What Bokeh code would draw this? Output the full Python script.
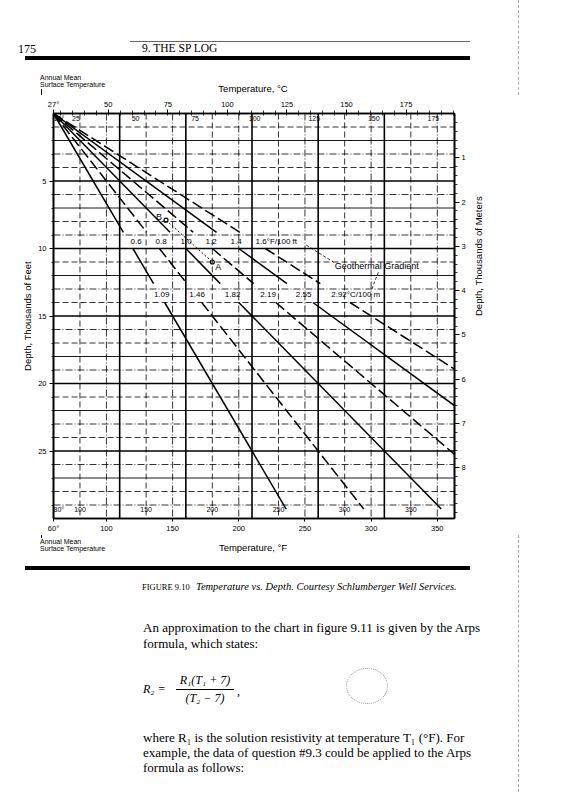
import math
from bokeh.plotting import figure
from bokeh.models import Range1d, LinearAxis, FixedTicker, Span, Div
from bokeh.layouts import column
from bokeh.embed import file_html
from bokeh.resources import INLINE
from bokeh.core.properties import value

# ---------------- data ----------------
surface_f = 60                      # annual mean surface temperature, degF
f_ticks = [60, 100, 150, 200, 250, 300, 350]
f_tick_labels = ["60°", "100", "150", "200", "250", "300", "350"]
f_inner_ticks = [80, 100, 150, 200, 250, 300, 350]
f_inner_labels = ["80°", "100", "150", "200", "250", "300", "350"]
c_outer_ticks = [27, 50, 75, 100, 125, 150, 175]
c_outer_labels = ["27°", "50", "75", "100", "125", "150", "175"]
c_inner_ticks = [15.6, 25, 50, 75, 100, 125, 150, 175]
c_inner_labels = ["15°", "25", "50", "75", "100", "125", "150", "175"]
depth_ft_ticks = [5, 10, 15, 20, 25]
depth_m_ticks = [1, 2, 3, 4, 5, 6, 7, 8]

gradients_f = [0.6, 0.8, 1.0, 1.2, 1.4, 1.6]            # degF / 100 ft
grad_f_labels = ["0.6", "0.8", "1.0", "1.2", "1.4", "1.6°F/100 ft"]
grad_c_labels = ["1.09", "1.46", "1.82", "2.19", "2.55", "2.92°C/100 m"]
grad_dash = ["solid", "11 4", "solid", "11 4", "solid", "11 4"]

heavy_f = [110, 160, 210, 260, 310]
light_f_a = [80, 130, 180, 230, 280, 330]
light_f_b = [100, 150, 200, 250, 300, 350]
heavy_d = [5, 10, 15, 20, 25]
solid_d = [2, 7, 12, 18, 22, 27]
light_d = [1, 3, 4, 6, 8, 9, 11, 13, 14, 16, 17, 19, 21, 23, 24, 26, 28, 29]

pt_names = ["B", "A"]
pt_temp_f = [145, 180]
pt_depth = [7.9, 11.0]

pieces = [(0.0, 8.8), (10.0, 12.6), (14.0, 29.3)]   # kft, gaps for label rows
row_f_depth = 9.45
row_c_depth = 13.4

FT_PER_M = 3.2808
X0, X1 = 60, 363
D0, D1 = 0, 30

SANS = "Liberation Sans"
SERIF = "Liberation Serif"
W = 558
HEAD_H = 95
FOOT_TOP = 535
FOOT_BOT = 792

# ---------------- chart ----------------
p = figure(frame_width=401, frame_height=405,
           min_border_left=53, min_border_right=W - 53 - 401,
           min_border_top=113 - HEAD_H, min_border_bottom=FOOT_TOP - 518,
           x_range=Range1d(X0, X1), y_range=Range1d(D1, D0),
           output_backend="svg", toolbar_location=None,
           background_fill_color="white", border_fill_color="white",
           outline_line_color="black", outline_line_width=1.6)
p.grid.visible = False

p.extra_x_ranges = {
    "c_outer": Range1d(27, 27 + (X1 - X0) / 1.8),
    "c_inner": Range1d((X0 - 32) / 1.8, (X1 - 32) / 1.8),
    "f_inner": Range1d(80, 80 + (X1 - X0)),
}
p.extra_y_ranges = {"m": Range1d(D1 / FT_PER_M, D0 / FT_PER_M)}

def style_axis(ax, size="7.5px"):
    ax.major_label_text_font = SANS
    ax.major_label_text_font_size = size
    ax.major_label_text_color = "black"
    ax.axis_label_text_font = SANS
    ax.axis_label_text_font_size = "9.5px"
    ax.axis_label_text_font_style = "normal"
    ax.axis_label_text_color = "black"
    ax.axis_line_width = 1.6
    ax.major_tick_line_width = 1
    ax.minor_tick_line_width = 0.8

xb = p.xaxis[0]
xb.ticker = FixedTicker(ticks=f_ticks, minor_ticks=[])
xb.major_label_overrides = {f_ticks[i]: f_tick_labels[i] for i in range(len(f_ticks))}
xb.major_tick_out = 3
xb.major_tick_in = 0
xb.major_label_standoff = 2
style_axis(xb)

yl = p.yaxis[0]
yl.ticker = FixedTicker(ticks=depth_ft_ticks, minor_ticks=list(range(1, 30)))
yl.major_tick_out = 4
yl.major_tick_in = 0
yl.minor_tick_out = 2
yl.minor_tick_in = 0
yl.major_label_standoff = 3
yl.axis_label = "Depth, Thousands of Feet"
yl.axis_label_standoff = 2
style_axis(yl)

xt = LinearAxis(x_range_name="c_outer",
                ticker=FixedTicker(ticks=c_outer_ticks,
                                   minor_ticks=list(range(30, 196, 5))))
xt.major_label_overrides = {c_outer_ticks[i]: c_outer_labels[i] for i in range(len(c_outer_ticks))}
xt.major_tick_out = 4
xt.major_tick_in = 0
xt.minor_tick_out = 3
xt.minor_tick_in = 2
xt.major_label_standoff = 1
style_axis(xt)
p.add_layout(xt, "above")

yr = LinearAxis(y_range_name="m",
                ticker=FixedTicker(ticks=depth_m_ticks,
                                   minor_ticks=[i / 5 for i in range(1, 46)]))
yr.major_tick_out = 5
yr.major_tick_in = 0
yr.minor_tick_out = 3
yr.minor_tick_in = 0
yr.major_label_standoff = 2
yr.axis_label = "Depth, Thousands of Meters"
yr.axis_label_standoff = 10
style_axis(yr)
try:
    yr.axis_label_orientation = math.pi / 2
except Exception:
    pass
p.add_layout(yr, "right")

# grid
for f in heavy_f:
    p.add_layout(Span(location=f, dimension="height", line_color="black", line_width=1.6))
for f in light_f_a:
    p.add_layout(Span(location=f, dimension="height", line_color="black", line_width=0.8,
                      line_dash="6 3"))
for f in light_f_b:
    p.add_layout(Span(location=f, dimension="height", line_color="black", line_width=0.8,
                      line_dash="7 2 1 2"))
for d in heavy_d:
    p.add_layout(Span(location=d, dimension="width", line_color="black", line_width=1.6))
for d in solid_d:
    p.add_layout(Span(location=d, dimension="width", line_color="black", line_width=0.9))
for i, d in enumerate(light_d):
    p.add_layout(Span(location=d, dimension="width", line_color="black", line_width=0.8,
                      line_dash="6 3" if i % 2 == 0 else "7 2 1 2"))

# gradient lines
for g, dash in zip(gradients_f, grad_dash):
    for d_a, d_b in pieces:
        p.line([surface_f + g * 10 * d_a, surface_f + g * 10 * d_b], [d_a, d_b],
               line_color="black", line_width=1.5, line_dash=dash)

p.text(x=[surface_f + g * 10 * row_f_depth for g in gradients_f],
       y=[row_f_depth] * len(gradients_f), text=grad_f_labels,
       text_font=value(SANS), text_font_size="8px", text_baseline="middle",
       text_align="left", x_offset=2, text_color="black")
p.text(x=[surface_f + g * 10 * row_c_depth for g in gradients_f],
       y=[row_c_depth] * len(gradients_f), text=grad_c_labels,
       text_font=value(SANS), text_font_size="8px", text_baseline="middle",
       text_align="left", x_offset=-6, text_color="black")

# example points A, B
p.line(pt_temp_f, pt_depth, line_color="black", line_width=0.9, line_dash="2 2")
p.scatter(pt_temp_f, pt_depth, size=4, fill_color="white", line_color="black", line_width=1.2)
p.text(x=pt_temp_f, y=pt_depth, text=pt_names, text_font=value(SANS), text_font_size="9px",
       x_offset=[-10, 3], y_offset=[-3, 5], text_baseline="middle", text_align="left",
       text_color="black")

# geothermal gradient annotation
p.text(x=[272.5], y=[11.3], text=["Geothermal Gradient"], text_font=value(SANS),
       text_font_size="9px", text_baseline="middle", text_align="left", text_color="black")
p.line([251, 271.5], [9.75, 11.0], line_color="black", line_width=0.8, line_dash="3 2")
p.line([300.5, 305.5], [13.0, 11.75], line_color="black", line_width=0.8, line_dash="3 2")

# inner scales printed inside the frame
p.text(x=c_inner_ticks, y=[0.35] * len(c_inner_ticks), text=c_inner_labels,
       x_range_name="c_inner", text_font=value(SANS), text_font_size="7px",
       text_baseline="middle", text_color="black",
       text_align=["left"] + ["center"] * (len(c_inner_ticks) - 1))
p.text(x=f_inner_ticks, y=[29.35] * len(f_inner_ticks), text=f_inner_labels,
       x_range_name="f_inner", text_font=value(SANS), text_font_size="7px",
       text_baseline="middle", text_color="black",
       text_align=["left"] + ["center"] * (len(f_inner_ticks) - 1))

# ---------------- page strips (HTML, page-pixel positions) ----------------
def t(x, y, html, size, family=SERIF, style="normal", align="left", top0=0):
    shift = "transform:translateX(-50%);" if align == "center" else ""
    return (f'<div style="position:absolute;left:{x}px;top:{y - top0 - size * 0.6:.1f}px;'
            f'font-family:\'{family}\';font-size:{size}px;line-height:{size * 1.2:.1f}px;'
            f'font-style:{style};white-space:nowrap;color:black;{shift}">{html}</div>')

def r(x0, x1, y0, y1, color="black", top0=0):
    return (f'<div style="position:absolute;left:{x0}px;top:{y0 - top0}px;width:{x1 - x0}px;'
            f'height:{y1 - y0}px;background:{color};"></div>')

def vdots(x, y0, y1, top0=0):
    return (f'<div style="position:absolute;left:{x}px;top:{y0 - top0}px;width:0px;'
            f'height:{y1 - y0}px;border-left:1px dashed #aaaaaa;"></div>')

def box(items, h):
    return (f'<div style="position:relative;width:{W}px;height:{h}px;margin:0;padding:0;'
            f'overflow:hidden;background:white;">' + "".join(items) + '</div>')

head_items = [
    t(18, 49, "175", 12),
    t(142, 49, "9. THE SP LOG", 11.5),
    r(130, 470, 40.5, 41.5, "#666666"),
    r(25, 470, 56, 59.5),
    t(40, 78, "Annual Mean", 7, SANS),
    t(40, 85.5, "Surface Temperature", 7, SANS),
    r(41, 42, 89, HEAD_H),
    t(253, 89, "Temperature, °C", 9.5, SANS, align="center"),
    vdots(518, 0, HEAD_H),
]
head = Div(text=box(head_items, HEAD_H), width=W, height=HEAD_H, margin=0)

F0 = FOOT_TOP
foot_items = [
    r(41, 42, F0, 538, top0=F0),
    t(40, 542, "Annual Mean", 7, SANS, top0=F0),
    t(40, 549.5, "Surface Temperature", 7, SANS, top0=F0),
    t(253, 548, "Temperature, °F", 9.5, SANS, align="center", top0=F0),
    r(25, 470, 566, 570, top0=F0),
    t(142, 587, "FIGURE 9.10", 8.5, top0=F0),
    t(196, 587, "Temperature vs. Depth. Courtesy Schlumberger Well Services.", 10.5,
      style="italic", top0=F0),
    t(143, 628, "An approximation to the chart in figure 9.11 is given by the Arps", 13, top0=F0),
    t(143, 644, "formula, which states:", 13, top0=F0),
    t(143, 689, "R₂ =", 12, style="italic", top0=F0),
    t(205, 680, "R₁(T₁ + 7)", 12, style="italic", align="center", top0=F0),
    r(176, 234, 688.5, 689.5, top0=F0),
    t(205, 698, "(T₂ − 7)", 12, style="italic", align="center", top0=F0),
    t(237, 691, ",", 12, top0=F0),
    t(143, 738, "where R₁ is the solution resistivity at temperature T₁ (°F). For", 13, top0=F0),
    t(143, 753, "example, the data of question #9.3 could be applied to the Arps", 13, top0=F0),
    t(143, 768, "formula as follows:", 13, top0=F0),
    '<div style="position:absolute;left:346px;top:%dpx;width:42px;height:36px;'
    'border:1px dotted #999999;border-radius:50%%;"></div>' % (668 - F0),
    vdots(518, F0, FOOT_BOT, top0=F0),
]
foot = Div(text=box(foot_items, FOOT_BOT - FOOT_TOP), width=W, height=FOOT_BOT - FOOT_TOP,
           margin=0)

layout = column(head, p, foot, spacing=0)
open("out.html", "w").write(file_html(layout, INLINE))
